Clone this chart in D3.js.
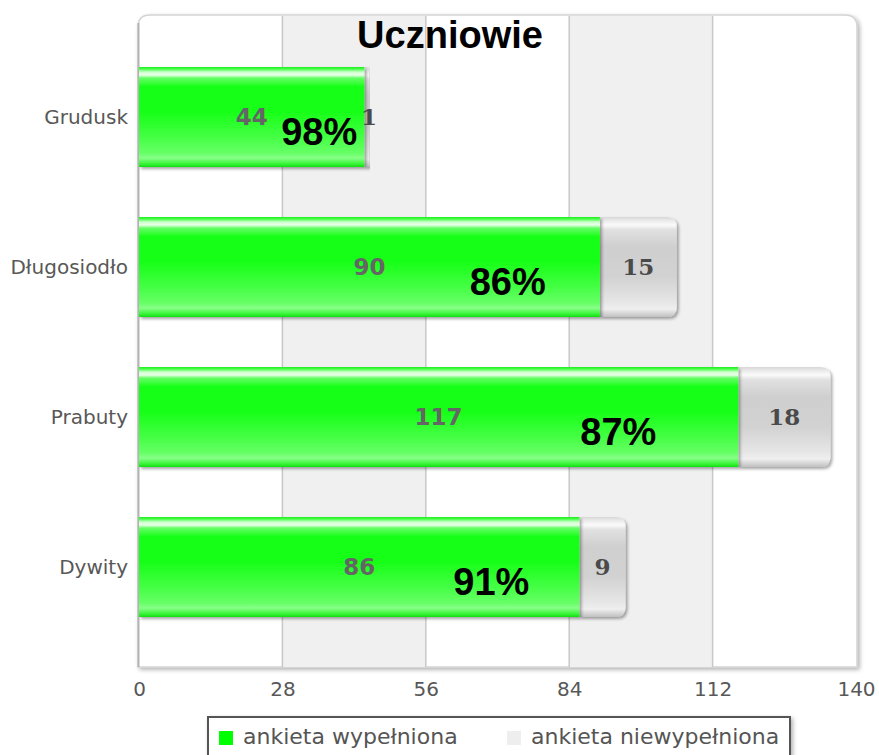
<!DOCTYPE html>
<html>
<head>
<meta charset="utf-8">
<script src="https://cdn.jsdelivr.net/npm/d3@7"></script>
<style>
  body { margin: 0; background: #fff; }
  svg { display: block; }
</style>
</head>
<body>
<svg id="chart"></svg>
<script>
const categories = ["Grudusk", "Długosiodło", "Prabuty", "Dywity"];
const filled = [44, 90, 117, 86];
const notFilled = [1, 15, 18, 9];
const percentLabels = ["98%", "86%", "87%", "91%"];
const tickValues = [0, 28, 56, 84, 112, 140];
const seriesNames = ["ankieta wypełniona", "ankieta niewypełniona"];

const width = 879;
const height = 755;
const plot = { left: 139, right: 856, top: 15, bottom: 667 };

const svg = d3.select("#chart").attr("width", width).attr("height", height);
const defs = svg.append("defs");

// shadows + gradients
const shadow = defs.append("filter").attr("id", "shadow").attr("x", "-5%").attr("y", "-5%").attr("width", "115%").attr("height", "120%");
shadow.append("feDropShadow").attr("dx", 2).attr("dy", 2).attr("stdDeviation", 2).attr("flood-color", "#000").attr("flood-opacity", 0.3);

const barShadow = defs.append("filter").attr("id", "barShadow").attr("x", "-5%").attr("y", "-10%").attr("width", "115%").attr("height", "130%");
barShadow.append("feDropShadow").attr("dx", 2).attr("dy", 2).attr("stdDeviation", 1.8).attr("flood-color", "#000").attr("flood-opacity", 0.35);

function vGrad(id, stops) {
  const g = defs.append("linearGradient").attr("id", id).attr("x1", 0).attr("y1", 0).attr("x2", 0).attr("y2", 1);
  stops.forEach(([o, c]) => g.append("stop").attr("offset", o).attr("stop-color", c));
}
vGrad("greenGrad", [
  [0, "#22ee22"], [0.02, "#44ff44"], [0.05, "#ccffcc"], [0.08, "#eaffea"], [0.11, "#66ff66"],
  [0.2, "#14ff14"], [0.45, "#18ff18"], [0.7, "#44ff44"], [0.86, "#66ff66"], [0.91, "#88ff88"],
  [0.96, "#44f844"], [1, "#10e010"]
]);
vGrad("grayGrad", [
  [0, "#d8d8d8"], [0.04, "#ececec"], [0.08, "#fafafa"], [0.13, "#e0e0e0"], [0.3, "#cfcfcf"],
  [0.6, "#d2d2d2"], [0.85, "#e6e6e6"], [0.92, "#efefef"], [1, "#c0c0c0"]
]);

const x = d3.scaleLinear().domain([0, 140]).range([plot.left, plot.right]);
const y = d3.scaleBand().domain(categories).range([42, 642]).paddingInner(1 / 3).paddingOuter(1 / 6);

// plot frame with rounded top corners
const r0 = 12;
const framePath = `M${plot.left - 1},${plot.bottom} V${plot.top + r0} Q${plot.left - 1},${plot.top} ${plot.left - 1 + r0},${plot.top}
  H${plot.right + 1 - r0} Q${plot.right + 1},${plot.top} ${plot.right + 1},${plot.top + r0} V${plot.bottom} Z`;
svg.append("path").attr("d", framePath).attr("fill", "#fff").attr("stroke", "#d4d4d4").attr("stroke-width", 1.5).attr("filter", "url(#shadow)");

// alternate bands
const bands = [[28, 56], [84, 112]];
svg.selectAll(".band").data(bands).enter().append("rect")
  .attr("class", "band")
  .attr("x", (d) => x(d[0]))
  .attr("y", plot.top + 1)
  .attr("width", (d) => x(d[1]) - x(d[0]))
  .attr("height", plot.bottom - plot.top - 1)
  .attr("fill", "#f0f0f0");

// grid lines
svg.selectAll(".grid").data(tickValues.slice(1, -1)).enter().append("line")
  .attr("class", "grid")
  .attr("x1", (d) => x(d)).attr("x2", (d) => x(d))
  .attr("y1", plot.top + 1).attr("y2", plot.bottom)
  .attr("stroke", "#c8c8c8").attr("stroke-width", 1.5);

// left axis line
svg.append("line").attr("x1", plot.left - 0.5).attr("x2", plot.left - 0.5)
  .attr("y1", plot.top + 8).attr("y2", plot.bottom)
  .attr("stroke", "#b4b4b4").attr("stroke-width", 2);

// title
svg.append("text").attr("x", 450).attr("y", 48).attr("text-anchor", "middle")
  .style("font-family", "'Liberation Sans', Arial, sans-serif").style("font-weight", "bold").style("font-size", "38px")
  .attr("fill", "#000").text("Uczniowie");

const rows = categories.map((c, i) => ({ cat: c, filled: filled[i], not: notFilled[i], pct: percentLabels[i] }));

function rightRounded(x0, y0, w, h, r) {
  r = Math.min(r, w / 2);
  return `M${x0},${y0} H${x0 + w - r} Q${x0 + w},${y0} ${x0 + w},${y0 + r} V${y0 + h - r} Q${x0 + w},${y0 + h} ${x0 + w - r},${y0 + h} H${x0} Z`;
}

const bars = svg.selectAll(".bar").data(rows).enter().append("g").attr("class", "bar");

bars.append("path")
  .attr("d", (d) => rightRounded(x(d.filled), y(d.cat), x(d.filled + d.not) - x(d.filled), y.bandwidth(), 10))
  .attr("fill", "url(#grayGrad)")
  .attr("filter", "url(#barShadow)");

bars.append("rect")
  .attr("x", x(0))
  .attr("y", (d) => y(d.cat))
  .attr("width", (d) => x(d.filled) - x(0))
  .attr("height", y.bandwidth())
  .attr("fill", "url(#greenGrad)")
  .attr("filter", "url(#barShadow)");

bars.append("text")
  .attr("x", (d) => (x(0) + x(d.filled)) / 2)
  .attr("y", (d) => y(d.cat) + y.bandwidth() / 2)
  .attr("dy", "0.36em")
  .attr("text-anchor", "middle")
  .style("font-family", "'DejaVu Sans', Verdana, sans-serif").style("font-weight", "bold").style("font-size", "23px")
  .attr("fill", "#656565")
  .text((d) => d.filled);

bars.append("text")
  .attr("x", (d) => (x(d.filled) + x(d.filled + d.not)) / 2 + (d.not < 3 ? 2 : 0))
  .attr("y", (d) => y(d.cat) + y.bandwidth() / 2)
  .attr("dy", "0.36em")
  .attr("text-anchor", "middle")
  .style("font-family", "'DejaVu Serif', Georgia, serif").style("font-weight", "bold").style("font-size", "23px")
  .attr("fill", "#4a4a4a")
  .text((d) => d.not);

bars.append("text")
  .attr("x", (d) => x(d.filled * 0.8))
  .attr("y", (d) => y(d.cat) + y.bandwidth() / 2 + 28)
  .attr("text-anchor", "middle")
  .style("font-family", "'Liberation Sans', Arial, sans-serif").style("font-weight", "bold").style("font-size", "38px")
  .attr("fill", "#000")
  .text((d) => d.pct);

// category labels
svg.selectAll(".cat").data(categories).enter().append("text")
  .attr("class", "cat")
  .attr("x", 128)
  .attr("y", (d) => y(d) + y.bandwidth() / 2)
  .attr("dy", "0.36em")
  .attr("text-anchor", "end")
  .style("font-family", "'DejaVu Sans', Verdana, sans-serif").style("font-size", "20px")
  .attr("fill", "#585858")
  .text((d) => d);

// x axis labels
const xAxis = d3.axisBottom(x).tickValues(tickValues).tickSize(0).tickPadding(0);
const gx = svg.append("g").attr("transform", `translate(0,${plot.bottom + 15})`).call(xAxis);
gx.select(".domain").remove();
gx.selectAll("text")
  .attr("dy", "0.71em")
  .style("font-family", "'DejaVu Sans', Verdana, sans-serif").style("font-size", "20px")
  .attr("fill", "#585858");

// legend
const legend = svg.append("g");
legend.append("rect").attr("x", 208).attr("y", 717).attr("width", 582).attr("height", 60)
  .attr("fill", "#fff").attr("stroke", "#555").attr("stroke-width", 2).attr("filter", "url(#shadow)");
const legendColors = ["#00ff00", "#eeeeee"];
const legendX = [219, 507];
const items = legend.selectAll(".item").data(seriesNames).enter().append("g").attr("class", "item")
  .attr("transform", (d, i) => `translate(${legendX[i]},730)`);
items.append("rect").attr("width", 14).attr("height", 14).attr("y", 1).attr("fill", (d, i) => legendColors[i]);
items.append("text").attr("x", 24).attr("y", 14)
  .style("font-family", "'DejaVu Sans', Verdana, sans-serif").style("font-size", "22px")
  .attr("fill", "#555")
  .text((d) => d);
</script>
</body>
</html>
